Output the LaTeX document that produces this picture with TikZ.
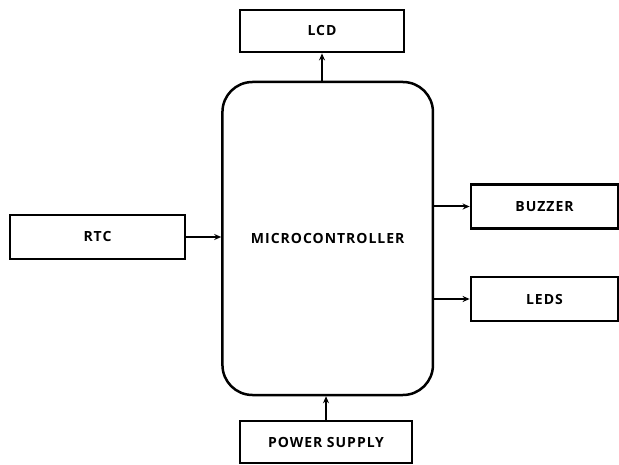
\documentclass[tikz,border=0pt]{standalone}
\usepackage{fontspec}
\setmainfont{Open Sans}
\newfontfamily\lblfont[LetterSpace=7]{Open Sans}
\usetikzlibrary{arrows.meta}
\begin{document}
\begin{tikzpicture}[x=1pt,y=-1pt,
  blk/.style={draw, line width=2.8pt, inner sep=0pt,
    font=\lblfont\bfseries\fontsize{14}{16}\selectfont},
  mcustyle/.style={blk, line width=2.5pt, rounded corners=30pt},
  arr/.style={line width=2pt, -{Stealth[length=7pt,width=6pt]}}]
\useasboundingbox (0,0) rectangle (619,465);
\node[blk, minimum width=164pt, minimum height=42pt] (lcd) at (322,31) {LCD};
\node[mcustyle, minimum width=210.5pt, minimum height=313pt] (mcu) at (327.7,238.5) {MICROCONTROLLER};
\node[blk, minimum width=175pt, minimum height=44pt] (rtc) at (97.5,237) {RTC};
\node[blk, minimum width=147pt, minimum height=44pt] (buzzer) at (544.5,206.5) {BUZZER};
\node[blk, minimum width=147pt, minimum height=44pt] (leds) at (544.5,299) {LEDS};
\node[blk, minimum width=172pt, minimum height=42pt] (power) at (326,442) {POWER SUPPLY};
\draw[arr] (lcd.south |- mcu.north) -- (lcd.south);
\draw[arr] (rtc.east) -- (rtc.east -| mcu.west);
\draw[arr] (mcu.east |- buzzer.west) -- (buzzer.west);
\draw[arr] (mcu.east |- leds.west) -- (leds.west);
\draw[arr] (power.north) -- (power.north |- mcu.south);
\end{tikzpicture}
\end{document}
